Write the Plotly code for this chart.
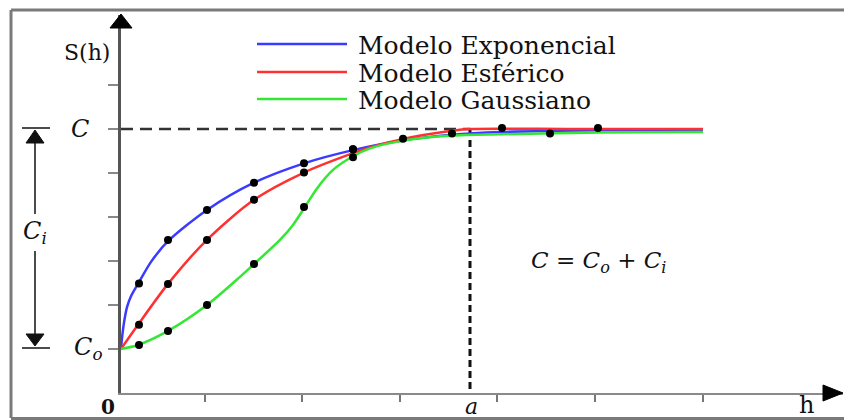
import plotly.graph_objects as go

# ---------------- data ----------------
# lag h (arbitrary units), semivariance S(h) (arbitrary units)
exp_h = [0, 0.01, 0.03, 0.06, 0.10, 0.18, 0.30, 0.47, 0.86, 1.33, 1.83, 2.32, 2.81, 3.31, 3.80, 4.80, 5.82]
exp_s = [1.0, 1.25, 1.60, 1.95, 2.20, 2.52, 2.98, 3.45, 4.16, 4.78, 5.22, 5.52, 5.74, 5.87, 5.93, 5.97, 5.98]

sph_h = [0, 0.17, 0.47, 0.86, 1.33, 1.83, 2.32, 2.49, 2.81, 3.31, 3.49, 4.50, 5.82]
sph_s = [1.0, 1.55, 2.48, 3.48, 4.39, 5.01, 5.45, 5.58, 5.77, 5.96, 6.00, 6.00, 6.00]

gau_h = [0, 0.17, 0.47, 0.86, 1.19, 1.33, 1.59, 1.72, 1.84, 1.96, 2.12, 2.32, 2.49, 2.81, 3.31, 3.80, 4.80, 5.82]
gau_s = [1.0, 1.09, 1.41, 2.00, 2.64, 2.93, 3.48, 3.82, 4.23, 4.65, 5.07, 5.38, 5.56, 5.73, 5.85, 5.88, 5.92, 5.93]

dot_h = [0.18, 0.47, 0.86, 1.33, 1.83, 2.32]
exp_dots = [2.49, 3.48, 4.16, 4.78, 5.22, 5.54]
sph_dots = [1.55, 2.48, 3.48, 4.39, 5.01, 5.54]
gau_dots = [1.09, 1.41, 2.00, 2.93, 4.23, 5.36]
tail_h = [2.82, 3.31, 3.81, 4.29, 4.77]
tail_s = [5.78, 5.90, 6.02, 5.90, 6.02]

C0 = 1.0          # nugget  C_o
C_sill = 6.0      # sill    C
a_range = 3.49    # range   a
x_ticks = [0.84, 1.81, 2.79, 3.76, 4.74, 5.82]
y_ticks = [1, 2, 3, 4, 5, 6, 7]

names = ["Modelo Exponencial", "Modelo Esférico", "Modelo Gaussiano"]
colors = ["#3b3bff", "#ff3030", "#33e833"]

# ---------------- geometry helpers (pixel -> paper) ----------------
W, H = 844, 420
L, R, T, B = 121, 843, 15, 393
def px(x):
    return (x - L) / (R - L)
def py(y):
    return (B - y) / (B - T)

fig = go.Figure()

# dashed reference lines
fig.add_trace(go.Scatter(x=[0, a_range], y=[C_sill, C_sill], mode="lines",
                         line=dict(color="#333333", width=2.5, dash="12px,7px"),
                         showlegend=False, hoverinfo="skip"))
fig.add_trace(go.Scatter(x=[a_range, a_range], y=[C_sill, 0], mode="lines",
                         line=dict(color="#111111", width=3, dash="7px,4px"),
                         showlegend=False, hoverinfo="skip"))

for hh, ss, nm, col in [(exp_h, exp_s, names[0], colors[0]),
                        (sph_h, sph_s, names[1], colors[1]),
                        (gau_h, gau_s, names[2], colors[2])]:
    fig.add_trace(go.Scatter(x=hh, y=ss, mode="lines", name=nm,
                             line=dict(color=col, width=2.5, shape="spline", smoothing=0.8),
                             showlegend=False))

for ds in [exp_dots, sph_dots, gau_dots]:
    fig.add_trace(go.Scatter(x=dot_h, y=ds, mode="markers",
                             marker=dict(color="black", size=8),
                             showlegend=False, hoverinfo="skip"))
fig.add_trace(go.Scatter(x=tail_h, y=tail_s, mode="markers",
                         marker=dict(color="black", size=8),
                         showlegend=False, hoverinfo="skip"))

shapes = []
# outer frame (left, top, bottom)
frame_col = "#7a7a7a"
shapes.append(dict(type="line", xref="paper", yref="paper", x0=px(11), x1=px(11), y0=py(10), y1=py(418),
                   line=dict(color=frame_col, width=3)))
shapes.append(dict(type="line", xref="paper", yref="paper", x0=px(11), x1=px(844), y0=py(10), y1=py(10),
                   line=dict(color=frame_col, width=3)))
shapes.append(dict(type="line", xref="paper", yref="paper", x0=px(11), x1=px(844), y0=py(418.5), y1=py(418.5),
                   line=dict(color=frame_col, width=3)))
# axis arrow heads
shapes.append(dict(type="path", xref="paper", yref="paper",
                   path=f"M {px(121)} {py(14)} L {px(110)} {py(28)} L {px(132)} {py(28)} Z",
                   fillcolor="black", line=dict(color="black", width=1)))
shapes.append(dict(type="path", xref="paper", yref="paper",
                   path=f"M {px(843)} {py(393)} L {px(823)} {py(385)} L {px(823)} {py(401)} Z",
                   fillcolor="black", line=dict(color="black", width=1)))
# C_i dimension arrow
ac = "#111111"
shapes += [
    dict(type="line", xref="paper", yref="paper", x0=px(22), x1=px(50), y0=py(128), y1=py(128), line=dict(color=ac, width=1.5)),
    dict(type="line", xref="paper", yref="paper", x0=px(22), x1=px(50), y0=py(348), y1=py(348), line=dict(color=ac, width=1.5)),
    dict(type="line", xref="paper", yref="paper", x0=px(35), x1=px(35), y0=py(140), y1=py(214), line=dict(color=ac, width=1.5)),
    dict(type="line", xref="paper", yref="paper", x0=px(35), x1=px(35), y0=py(251), y1=py(336), line=dict(color=ac, width=1.5)),
    dict(type="path", xref="paper", yref="paper",
         path=f"M {px(35)} {py(130)} L {px(26)} {py(143)} L {px(44)} {py(143)} Z",
         fillcolor=ac, line=dict(color=ac, width=1)),
    dict(type="path", xref="paper", yref="paper",
         path=f"M {px(35)} {py(346)} L {px(26)} {py(334)} L {px(44)} {py(334)} Z",
         fillcolor=ac, line=dict(color=ac, width=1)),
]
# manual legend samples
leg_y = [44, 72, 99]
for yy, col in zip(leg_y, colors):
    shapes.append(dict(type="line", xref="paper", yref="paper", x0=px(257), x1=px(347),
                       y0=py(yy), y1=py(yy), line=dict(color=col, width=2.5)))

serif = "DejaVu Serif"
ann = []
for yy, nm in zip(leg_y, names):
    ann.append(dict(x=px(356), y=py(yy + 1), xref="paper", yref="paper", text=nm, showarrow=False,
                    xanchor="left", yanchor="middle", font=dict(family=serif, size=25, color="#111")))

def label(x, y, text, size=22, anchor="center", **kw):
    ann.append(dict(x=px(x), y=py(y), xref="paper", yref="paper", text=text, showarrow=False,
                    xanchor=anchor, yanchor="middle", font=dict(family=serif, size=size, color="#111"), **kw))

label(87, 52, "S(h)", size=22)
label(80, 129, "<i>C</i>", size=24)
label(88, 348, "<i>C</i><sub><i>o</i></sub>", size=24)
label(35, 232, "<i>C</i><sub><i>i</i></sub>", size=24)
label(108, 407, "<b>0</b>", size=20)
label(471, 406, "<i>a</i>", size=22)
label(806, 405, "h", size=24)
label(599, 262, "<i>C</i> = <i>C</i><sub><i>o</i></sub> + <i>C</i><sub><i>i</i></sub>", size=23)

fig.update_layout(
    width=W, height=H,
    margin=dict(l=L, r=W - R, t=T, b=H - B),
    paper_bgcolor="white", plot_bgcolor="white",
    shapes=shapes, annotations=ann,
    showlegend=False,
    xaxis=dict(range=[0, (R - L) / 100], showgrid=False, zeroline=False,
               showline=True, linecolor="#8a8a8a", linewidth=2,
               ticks="outside", tickvals=x_ticks, ticklen=7, tickwidth=2, tickcolor="#777",
               showticklabels=False),
    yaxis=dict(range=[0, (B - T) / 44], showgrid=False, zeroline=False,
               showline=True, linecolor="#555", linewidth=2.5,
               ticks="outside", tickvals=y_ticks, ticklen=10, tickwidth=2, tickcolor="#888",
               showticklabels=False),
)

fig.write_html("out.html", config={"displayModeBar": False},
               post_script="document.body.style.margin='0px';document.body.style.overflow='hidden';")
